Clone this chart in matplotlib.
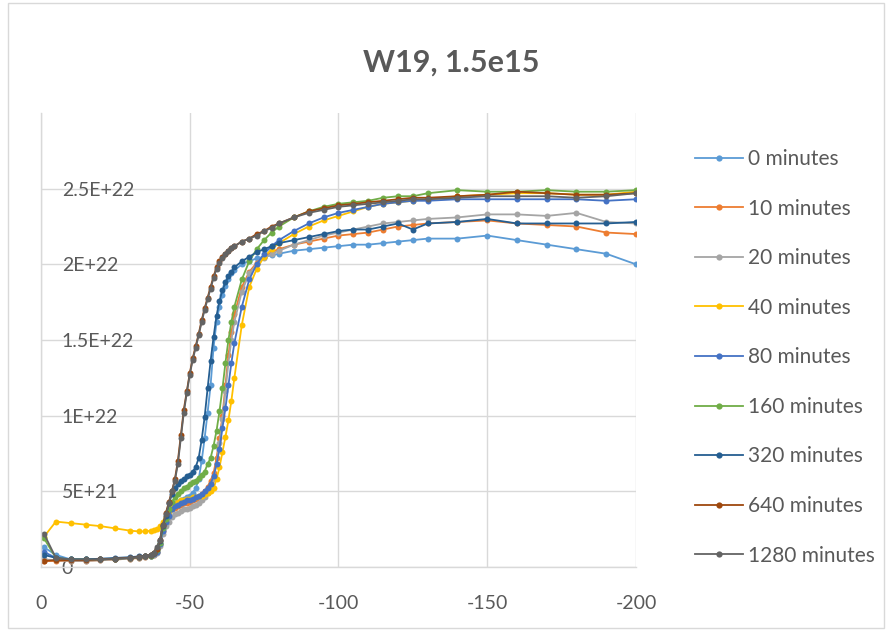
import matplotlib
matplotlib.use("Agg")
import matplotlib.pyplot as plt
from matplotlib.patches import Rectangle

# ---------------- data (values in units of 1E22) ----------------
x_vals = [-1, -5, -10, -15, -20, -25, -30, -33, -35, -37, -38, -39,
          -40, -41, -42, -43, -44, -45, -46, -47, -48, -49, -50, -51, -52,
          -53, -54, -55, -56, -57, -58, -59, -60, -61, -62, -63, -64, -65,
          -67.5, -70, -72.5, -75, -77.5, -80, -85, -90, -95, -100, -105,
          -110, -115, -120, -125, -130,
          -140, -150, -160, -170, -180, -190, -200]

series_labels = ["0 minutes", "10 minutes", "20 minutes", "40 minutes", "80 minutes",
                 "160 minutes", "320 minutes", "640 minutes", "1280 minutes"]

y_0min = [0.13, 0.08, 0.05, 0.05, 0.05, 0.055, 0.06, 0.065, 0.07, 0.075, 0.085, 0.10,
          0.15, 0.25, 0.31, 0.36, 0.40, 0.42, 0.43, 0.44, 0.45, 0.46, 0.47, 0.49, 0.52,
          0.58, 0.70, 0.85, 1.02, 1.20, 1.45, 1.62, 1.72, 1.80, 1.86, 1.90, 1.94, 1.96,
          2.00, 2.02, 2.04, 2.05, 2.06, 2.07, 2.09, 2.10, 2.11, 2.12, 2.13,
          2.13, 2.14, 2.15, 2.16, 2.17,
          2.17, 2.19, 2.16, 2.13, 2.10, 2.07, 2.00]

y_10min = [0.04, 0.04, 0.04, 0.04, 0.045, 0.05, 0.055, 0.06, 0.065, 0.07, 0.08, 0.10,
           0.15, 0.24, 0.30, 0.34, 0.38, 0.39, 0.40, 0.41, 0.42, 0.42, 0.43, 0.44, 0.45,
           0.46, 0.48, 0.50, 0.53, 0.57, 0.62, 0.72, 0.85, 1.00, 1.20, 1.40, 1.55, 1.67,
           1.85, 1.95, 2.01, 2.05, 2.08, 2.10, 2.13, 2.15, 2.17, 2.19, 2.20,
           2.21, 2.23, 2.25, 2.26, 2.27,
           2.28, 2.29, 2.27, 2.26, 2.25, 2.21, 2.20]

y_20min = [0.05, 0.045, 0.04, 0.04, 0.045, 0.05, 0.055, 0.06, 0.065, 0.07, 0.08, 0.09,
           0.14, 0.22, 0.27, 0.30, 0.33, 0.35, 0.36, 0.37, 0.38, 0.385, 0.39, 0.40, 0.41,
           0.42, 0.44, 0.46, 0.49, 0.53, 0.58, 0.68, 0.82, 0.98, 1.16, 1.35, 1.50, 1.62,
           1.82, 1.94, 2.00, 2.04, 2.07, 2.09, 2.13, 2.16, 2.19, 2.21, 2.23,
           2.25, 2.27, 2.28, 2.29, 2.30,
           2.31, 2.33, 2.33, 2.32, 2.34, 2.28, 2.27]

y_40min = [0.20, 0.30, 0.29, 0.28, 0.27, 0.255, 0.24, 0.235, 0.235, 0.24, 0.245, 0.25,
           0.27, 0.30, 0.33, 0.37, 0.40, 0.42, 0.43, 0.44, 0.44, 0.45, 0.45, 0.46, 0.46,
           0.47, 0.47, 0.48, 0.49, 0.50, 0.52, 0.58, 0.66, 0.76, 0.86, 0.97, 1.10, 1.25,
           1.60, 1.85, 1.97, 2.05, 2.10, 2.14, 2.20, 2.25, 2.29, 2.32, 2.35,
           2.38, 2.40, 2.41, 2.42, 2.43,
           2.45, 2.46, 2.47, 2.47, 2.46, 2.46, 2.48]

y_80min = [0.10, 0.06, 0.05, 0.05, 0.05, 0.055, 0.06, 0.065, 0.07, 0.075, 0.085, 0.10,
           0.15, 0.24, 0.30, 0.34, 0.38, 0.40, 0.41, 0.42, 0.43, 0.44, 0.44, 0.45, 0.46,
           0.47, 0.48, 0.50, 0.52, 0.55, 0.60, 0.68, 0.78, 0.92, 1.05, 1.20, 1.35, 1.48,
           1.72, 1.90, 2.00, 2.07, 2.12, 2.16, 2.22, 2.27, 2.31, 2.34, 2.36,
           2.38, 2.40, 2.41, 2.42, 2.42,
           2.43, 2.43, 2.43, 2.43, 2.43, 2.42, 2.43]

y_160min = [0.19, 0.06, 0.05, 0.05, 0.05, 0.055, 0.06, 0.065, 0.07, 0.075, 0.09, 0.11,
            0.16, 0.26, 0.32, 0.38, 0.43, 0.46, 0.48, 0.50, 0.52, 0.53, 0.55, 0.56, 0.57,
            0.59, 0.61, 0.63, 0.68, 0.72, 0.80, 0.90, 1.03, 1.18, 1.35, 1.50, 1.62, 1.72,
            1.90, 2.02, 2.10, 2.16, 2.21, 2.25, 2.31, 2.35, 2.38, 2.40, 2.41,
            2.42, 2.44, 2.45, 2.45, 2.47,
            2.49, 2.48, 2.48, 2.49, 2.48, 2.48, 2.49]

y_320min = [0.08, 0.06, 0.05, 0.05, 0.055, 0.06, 0.065, 0.07, 0.075, 0.08, 0.09, 0.12,
            0.17, 0.27, 0.34, 0.42, 0.48, 0.52, 0.55, 0.57, 0.58, 0.60, 0.61, 0.63, 0.66,
            0.72, 0.84, 0.99, 1.18, 1.36, 1.52, 1.66, 1.76, 1.83, 1.88, 1.92, 1.95, 1.98,
            2.02, 2.05, 2.08, 2.10, 2.12, 2.14, 2.16, 2.18, 2.20, 2.22, 2.23,
            2.23, 2.25, 2.27, 2.23, 2.27,
            2.28, 2.30, 2.27, 2.27, 2.27, 2.27, 2.28]

y_640min = [0.04, 0.045, 0.045, 0.045, 0.05, 0.055, 0.06, 0.065, 0.07, 0.08, 0.09, 0.12,
            0.18, 0.28, 0.36, 0.43, 0.50, 0.58, 0.70, 0.87, 1.04, 1.16, 1.28, 1.38, 1.46,
            1.54, 1.63, 1.71, 1.78, 1.85, 1.92, 1.98, 2.02, 2.05, 2.07, 2.09, 2.11, 2.12,
            2.15, 2.17, 2.20, 2.22, 2.25, 2.27, 2.31, 2.35, 2.37, 2.39, 2.40,
            2.41, 2.42, 2.43, 2.44, 2.44,
            2.45, 2.46, 2.48, 2.47, 2.46, 2.46, 2.47]

y_1280min = [0.22, 0.06, 0.05, 0.05, 0.05, 0.055, 0.06, 0.065, 0.07, 0.08, 0.095, 0.13,
             0.18, 0.28, 0.35, 0.42, 0.50, 0.57, 0.68, 0.85, 1.02, 1.15, 1.27, 1.37, 1.45,
             1.53, 1.62, 1.70, 1.77, 1.84, 1.91, 1.97, 2.01, 2.04, 2.07, 2.09, 2.11, 2.12,
             2.15, 2.17, 2.19, 2.22, 2.24, 2.27, 2.31, 2.34, 2.36, 2.38, 2.39,
             2.40, 2.41, 2.42, 2.43, 2.43,
             2.44, 2.45, 2.45, 2.45, 2.44, 2.45, 2.47]

series_values = [y_0min, y_10min, y_20min, y_40min, y_80min,
                 y_160min, y_320min, y_640min, y_1280min]
series_colors = ["#5B9BD5", "#ED7D31", "#A5A5A5", "#FFC000", "#4472C4",
                 "#70AD47", "#255E91", "#9E480E", "#636363"]

y_ticks = [0, 0.5e22, 1.0e22, 1.5e22, 2.0e22, 2.5e22]
y_tick_labels = ["0", "5E+21", "1E+22", "1.5E+22", "2E+22", "2.5E+22"]
x_ticks = [0, -50, -100, -150, -200]
x_tick_labels = ["0", "-50", "-100", "-150", "-200"]
title_text = "W19, 1.5e15"
SCALE = 1e22

# ---------------- figure ----------------
plt.rcParams['font.family'] = ['Lato', 'DejaVu Sans']
W, H = 887, 631
fig = plt.figure(figsize=(W / 100, H / 100), dpi=100)
fig.patch.set_facecolor("white")
fig.patches.append(Rectangle((8 / W, 3 / H), (884 - 8) / W, (628 - 3) / H,
                             transform=fig.transFigure, fill=False,
                             edgecolor="#D9D9D9", linewidth=1.0))

ax = fig.add_axes([41 / W, 1 - 567 / H, (636 - 41) / W, (567 - 113) / H])
text_color = "#595959"
grid_color = "#D9D9D9"

for vals, lab, col in zip(series_values, series_labels, series_colors):
    ax.plot(x_vals, [v * SCALE for v in vals], color=col, linewidth=1.3,
            marker="o", markersize=4.3, markeredgewidth=0, label=lab)

ax.set_xlim(0, -200)
ax.set_ylim(0, 3.0e22)
ax.set_xticks(x_ticks)
ax.set_xticklabels(x_tick_labels)
ax.set_yticks(y_ticks)
ax.set_yticklabels(y_tick_labels)
ax.grid(True, color=grid_color, linewidth=1.0)
ax.set_axisbelow(True)
for side in ["top", "right"]:
    ax.spines[side].set_visible(False)
for side in ["left", "bottom"]:
    ax.spines[side].set_color(grid_color)
    ax.spines[side].set_linewidth(1.0)
ax.tick_params(axis="both", length=0, labelsize=14, labelcolor=text_color)
ax.tick_params(axis="x", pad=20)
ax.tick_params(axis="y", pad=-15)
for lbl in ax.get_yticklabels():
    lbl.set_horizontalalignment("left")

fig.text(451 / W, 1 - 63 / H, title_text, ha="center", va="center",
         fontsize=22, fontweight="bold", color=text_color)

leg = ax.legend(loc="upper left", bbox_to_anchor=(695 / W, 1 - 149 / H),
                bbox_transform=fig.transFigure, frameon=False, fontsize=15,
                labelcolor=text_color, handlelength=2.3, handletextpad=0.25,
                labelspacing=1.42, borderaxespad=0, borderpad=0)
for h in leg.legend_handles:
    h.set_markersize(4.5)

fig.savefig("out.png", dpi=100)
